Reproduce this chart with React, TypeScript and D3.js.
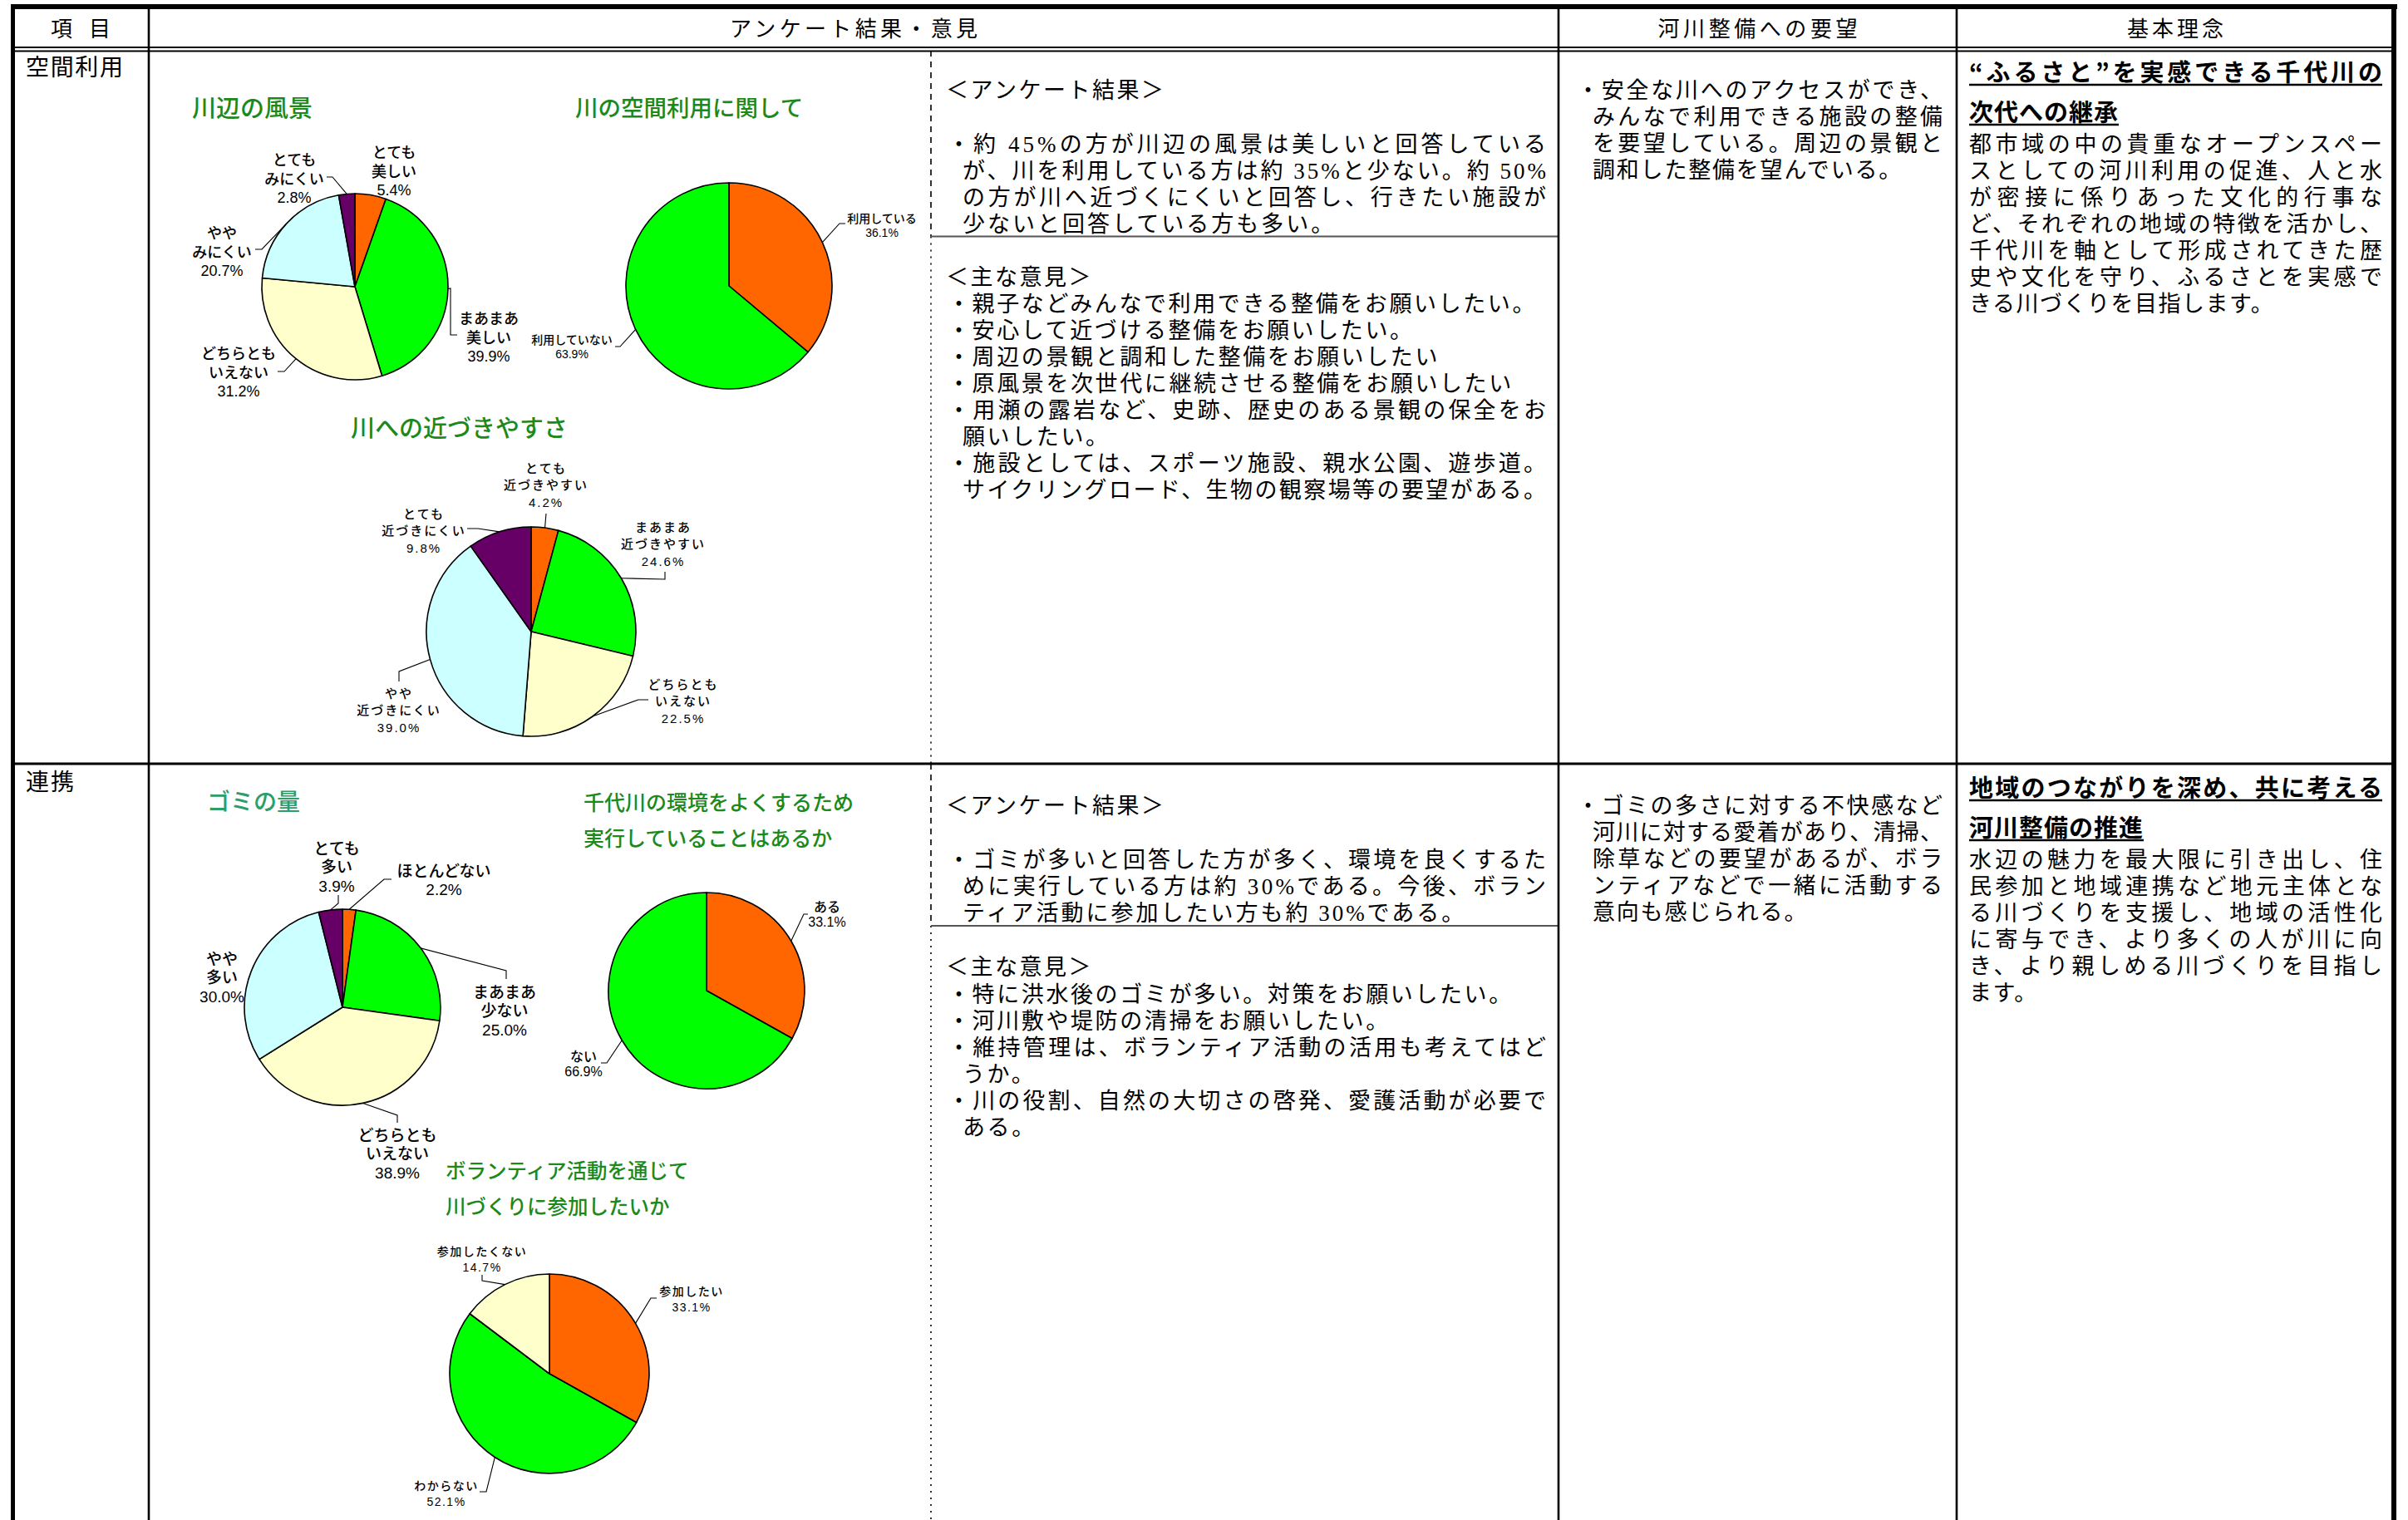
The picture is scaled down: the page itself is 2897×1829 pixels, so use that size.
import React from "react";
import * as d3 from "d3";

// ---------------- DATA ----------------
const headerLabels = ["項 目", "アンケート結果・意見", "河川整備への要望", "基本理念"];
const rowLabels = ["空間利用", "連携"];

const sceneryTitle = ["川辺の風景"];
const sceneryCategories = [["とても", "美しい"], ["まあまあ", "美しい"], ["どちらとも", "いえない"], ["やや", "みにくい"], ["とても", "みにくい"]];
const sceneryValues = [5.4, 39.9, 31.2, 20.7, 2.8];

const spaceUseTitle = ["川の空間利用に関して"];
const spaceUseCategories = [["利用している"], ["利用していない"]];
const spaceUseValues = [36.1, 63.9];

const accessTitle = ["川への近づきやすさ"];
const accessCategories = [["とても", "近づきやすい"], ["まあまあ", "近づきやすい"], ["どちらとも", "いえない"], ["やや", "近づきにくい"], ["とても", "近づきにくい"]];
const accessValues = [4.2, 24.6, 22.5, 39.0, 9.8];

const garbageTitle = ["ゴミの量"];
const garbageCategories = [["ほとんどない"], ["まあまあ", "少ない"], ["どちらとも", "いえない"], ["やや", "多い"], ["とても", "多い"]];
const garbageValues = [2.2, 25.0, 38.9, 30.0, 3.9];

const actionTitle = ["千代川の環境をよくするため", "実行していることはあるか"];
const actionCategories = [["ある"], ["ない"]];
const actionValues = [33.1, 66.9];

const volunteerTitle = ["ボランティア活動を通じて", "川づくりに参加したいか"];
const volunteerCategories = [["参加したい"], ["わからない"], ["参加したくない"]];
const volunteerValues = [33.1, 52.1, 14.7];

const surveyHeading = "＜アンケート結果＞";
const opinionHeading = "＜主な意見＞";

const spaceSurveyResult = [
  "・約 45%の方が川辺の風景は美しいと回答している",
  "が、川を利用している方は約 35%と少ない。約 50%",
  "の方が川へ近づくにくいと回答し、行きたい施設が",
  "少ないと回答している方も多い。",
];
const spaceOpinions = [
  "・親子などみんなで利用できる整備をお願いしたい。",
  "・安心して近づける整備をお願いしたい。",
  "・周辺の景観と調和した整備をお願いしたい",
  "・原風景を次世代に継続させる整備をお願いしたい",
  "・用瀬の露岩など、史跡、歴史のある景観の保全をお",
  "願いしたい。",
  "・施設としては、スポーツ施設、親水公園、遊歩道。",
  "サイクリングロード、生物の観察場等の要望がある。",
];
const spaceRequest = [
  "・安全な川へのアクセスができ、",
  "みんなで利用できる施設の整備",
  "を要望している。周辺の景観と",
  "調和した整備を望んでいる。",
];
const spaceConceptTitle = ["“ふるさと”を実感できる千代川の", "次代への継承"];
const spaceConceptBody = [
  "都市域の中の貴重なオープンスペー",
  "スとしての河川利用の促進、人と水",
  "が密接に係りあった文化的行事な",
  "ど、それぞれの地域の特徴を活かし、",
  "千代川を軸として形成されてきた歴",
  "史や文化を守り、ふるさとを実感で",
  "きる川づくりを目指します。",
];

const collabSurveyResult = [
  "・ゴミが多いと回答した方が多く、環境を良くするた",
  "めに実行している方は約 30%である。今後、ボラン",
  "ティア活動に参加したい方も約 30%である。",
];
const collabOpinions = [
  "・特に洪水後のゴミが多い。対策をお願いしたい。",
  "・河川敷や堤防の清掃をお願いしたい。",
  "・維持管理は、ボランティア活動の活用も考えてはど",
  "うか。",
  "・川の役割、自然の大切さの啓発、愛護活動が必要で",
  "ある。",
];
const collabRequest = [
  "・ゴミの多さに対する不快感など",
  "河川に対する愛着があり、清掃、",
  "除草などの要望があるが、ボラ",
  "ンティアなどで一緒に活動する",
  "意向も感じられる。",
];
const collabConceptTitle = ["地域のつながりを深め、共に考える", "河川整備の推進"];
const collabConceptBody = [
  "水辺の魅力を最大限に引き出し、住",
  "民参加と地域連携など地元主体とな",
  "る川づくりを支援し、地域の活性化",
  "に寄与でき、より多くの人が川に向",
  "き、より親しめる川づくりを目指し",
  "ます。",
];

// ---------------- STYLE / LAYOUT ----------------
const W = 2897;
const H = 1829;
const FONT = "'Noto Sans CJK JP', 'Noto Sans', sans-serif";
const FONT_TIGHT = "'Liberation Sans', 'Noto Sans CJK JP', sans-serif";
const FONT_SERIF = "'Liberation Serif', 'Noto Sans CJK JP', serif";
const sliceColors = ["#FF6600", "#00FF00", "#FFFFCC", "#CCFFFF", "#660066"];
const titleGreen = "#1b8a1b";
const titleTeal = "#2f9d68";

type Pt = [number, number];
type LabelPos = { x: number; y: number; path?: Pt[] };
type PieLayout = {
  cx: number; cy: number; r: number;
  font: number; lh: number; ls: number;
  titleX: number; titleY: number; titleSize: number; titleLh: number; titleColor: string;
  labels: LabelPos[];
};

const pieCharts: { title: string[]; cats: string[][]; values: number[]; layout: PieLayout }[] = [
  {
    title: sceneryTitle, cats: sceneryCategories, values: sceneryValues,
    layout: {
      cx: 427, cy: 345, r: 112, font: 18, lh: 22.5, ls: 0,
      titleX: 231, titleY: 128, titleSize: 29, titleLh: 43, titleColor: titleGreen,
      labels: [
        { x: 474, y: 183 },
        { x: 588, y: 383, path: [[542, 347], [542, 403], [550, 403]] },
        { x: 287, y: 425, path: [[342, 447], [334, 447]] },
        { x: 267, y: 280, path: [[315, 300], [307, 300]] },
        { x: 354, y: 192, path: [[400, 213], [393, 213]] },
      ],
    },
  },
  {
    title: spaceUseTitle, cats: spaceUseCategories, values: spaceUseValues,
    layout: {
      cx: 877, cy: 344, r: 124, font: 14, lh: 17, ls: 0,
      titleX: 692, titleY: 128, titleSize: 27.5, titleLh: 43, titleColor: titleGreen,
      labels: [
        { x: 1061, y: 262, path: [[1010, 269], [1017, 269]] },
        { x: 688, y: 408, path: [[746, 417], [740, 417]] },
      ],
    },
  },
  {
    title: accessTitle, cats: accessCategories, values: accessValues,
    layout: {
      cx: 639, cy: 760, r: 126, font: 15, lh: 20.5, ls: 2,
      titleX: 422, titleY: 513, titleSize: 29, titleLh: 43, titleColor: titleGreen,
      labels: [
        { x: 657, y: 562, path: [[657, 618]] },
        { x: 798, y: 633, path: [[800, 697], [800, 688]] },
        { x: 822, y: 822, path: [[768, 842], [780, 842]] },
        { x: 480, y: 833, path: [[480, 808], [480, 820]] },
        { x: 510, y: 617, path: [[575, 636], [562, 636]] },
      ],
    },
  },
  {
    title: garbageTitle, cats: garbageCategories, values: garbageValues,
    layout: {
      cx: 412, cy: 1212, r: 118, font: 19, lh: 22.5, ls: 0,
      titleX: 249, titleY: 963, titleSize: 28, titleLh: 43, titleColor: titleTeal,
      labels: [
        { x: 534, y: 1047, path: [[462, 1058], [471, 1058]] },
        { x: 607, y: 1193, path: [[609, 1168], [609, 1178]] },
        { x: 478, y: 1365, path: [[478, 1342], [478, 1351]] },
        { x: 267, y: 1153 },
        { x: 405, y: 1020, path: [[407, 1087], [407, 1077]] },
      ],
    },
  },
  {
    title: actionTitle, cats: actionCategories, values: actionValues,
    layout: {
      cx: 850, cy: 1192, r: 118, font: 16, lh: 18.5, ls: 0,
      titleX: 702, titleY: 964, titleSize: 25, titleLh: 43, titleColor: titleGreen,
      labels: [
        { x: 995, y: 1090, path: [[967, 1100], [972, 1100]] },
        { x: 702, y: 1270, path: [[730, 1279], [723, 1279]] },
      ],
    },
  },
  {
    title: volunteerTitle, cats: volunteerCategories, values: volunteerValues,
    layout: {
      cx: 661, cy: 1653, r: 120, font: 14, lh: 19, ls: 1.5,
      titleX: 536, titleY: 1407, titleSize: 24.5, titleLh: 43, titleColor: titleGreen,
      labels: [
        { x: 832, y: 1553, path: [[783, 1562], [790, 1562]] },
        { x: 537, y: 1787, path: [[585, 1795], [577, 1795]] },
        { x: 580, y: 1505, path: [[580, 1541], [580, 1534]] },
      ],
    },
  },
];

function estWidth(s: string, fs: number, ls: number) {
  let w = 0;
  for (const ch of s) {
    const c = ch.codePointAt(0) || 0;
    w += (c < 0x2000 ? (ch === " " ? 0.3 : 0.55) : 1) * fs + ls;
  }
  return w;
}

function PieChart({ title, cats, values, layout }: { title: string[]; cats: string[][]; values: number[]; layout: PieLayout }) {
  const pie = d3.pie<number>().sort(null).value((d) => d);
  const arcs = pie(values);
  const arcGen = d3.arc<d3.PieArcDatum<number>>().innerRadius(0).outerRadius(layout.r);
  const edgeGen = d3.arc<d3.PieArcDatum<number>>().innerRadius(layout.r).outerRadius(layout.r);
  const line = d3.line();
  return (
    <g>
      {title.map((t, i) => (
        <text key={i} x={layout.titleX} y={layout.titleY + i * layout.titleLh} fontSize={layout.titleSize}
          fill={layout.titleColor} fontWeight={500} dominantBaseline="central" fontFamily={FONT}>{t}</text>
      ))}
      <g transform={`translate(${layout.cx},${layout.cy})`}>
        {arcs.map((a, i) => (
          <path key={i} d={arcGen(a) || ""} fill={sliceColors[i]} stroke="#000" strokeWidth={1.6} strokeLinejoin="round" />
        ))}
      </g>
      {arcs.map((a, i) => {
        const lp = layout.labels[i];
        const [ex, ey] = edgeGen.centroid(a);
        const lines = [...cats[i], `${values[i].toFixed(1)}%`];
        return (
          <g key={i}>
            {lp.path && (
              <path d={line([[layout.cx + ex, layout.cy + ey], ...lp.path]) || ""} fill="none" stroke="#000" strokeWidth={1.1} />
            )}
            {lines.map((t, j) => (
              <text key={j} x={lp.x} y={lp.y + j * layout.lh + 1} fontSize={layout.font} letterSpacing={layout.ls} fontWeight={500}
                textAnchor="middle" dominantBaseline="central" fontFamily={FONT_TIGHT} fill="#000">{t}</text>
            ))}
          </g>
        );
      })}
    </g>
  );
}

function Block({ lines, x, right, y, lh, fs, ls, family, weight = 400, indent = 0 }:
  { lines: string[]; x: number; right: number; y: number; lh: number; fs: number; ls: number; family: string; weight?: number; indent?: number }) {
  const hasBullets = lines.some((l) => l.startsWith("・"));
  return (
    <g>
      {lines.map((s, i) => {
        const cont = hasBullets && !s.startsWith("・");
        const lx = x + (cont ? indent : 0);
        const avail = right - lx;
        const next = lines[i + 1];
        const justify = next !== undefined && !next.startsWith("・");
        const nat = estWidth(s, fs, ls);
        const tl = justify || nat > avail ? avail : undefined;
        return (
          <text key={i} x={lx} y={y + i * lh + 2} fontSize={fs} fontWeight={weight} letterSpacing={tl ? 0 : ls}
            textLength={tl} lengthAdjust="spacing" dominantBaseline="central" fontFamily={family} fill="#000">{s}</text>
        );
      })}
    </g>
  );
}

function ConceptTitle({ lines, x, right, y, lh, fs }: { lines: string[]; x: number; right: number; y: number; lh: number; fs: number }) {
  return (
    <g>
      {lines.map((s, i) => {
        const justify = i < lines.length - 1;
        const w = justify ? right - x : estWidth(s, fs, 1);
        const yy = y + i * lh;
        return (
          <g key={i}>
            <text x={x} y={yy} fontSize={fs} fontWeight={700} letterSpacing={justify ? 0 : 1}
              textLength={justify ? right - x : undefined} lengthAdjust="spacing"
              dominantBaseline="central" fontFamily={FONT} fill="#000">{s}</text>
            <line x1={x} x2={x + w} y1={yy + 17} y2={yy + 17} stroke="#000" strokeWidth={2.5} />
          </g>
        );
      })}
    </g>
  );
}

export default function App() {
  React.useEffect(() => {
    document.body.style.margin = "0";
  }, []);

  // table geometry
  const xL = 15, xR = 2880, yTop = 8;
  const headerBot = 57;
  const rowDiv = 919;
  const cols = [179, 1120, 1875, 2354];
  const headerCenters = [(xL + cols[0]) / 2, (cols[0] + cols[2]) / 2, (cols[2] + cols[3]) / 2, (cols[3] + xR) / 2];
  const headerWidths = [72, 298, 240, 116];
  const rules = [284.5, 1114];

  const col2x = 1140, col2r = 1860;
  const col3x = 1897, col3r = 2337;
  const col4x = 2369, col4r = 2866;

  const heading = (t: string, y: number) => (
    <text x={1138} y={y + 2} fontSize={27} letterSpacing={2.5} dominantBaseline="central" fontFamily={FONT_SERIF}>{t}</text>
  );

  return (
    <svg width={W} height={H} viewBox={`0 0 ${W} ${H}`} style={{ display: "block", background: "#fff" }}
      xmlns="http://www.w3.org/2000/svg">
      <rect x={0} y={0} width={W} height={H} fill="#fff" />

      {/* header texts */}
      {headerLabels.map((t, i) => (
        <text key={i} x={headerCenters[i] - headerWidths[i] / 2} y={32} fontSize={26} textLength={headerWidths[i]}
          lengthAdjust="spacing" dominantBaseline="central" fontFamily={FONT} fill="#000">{t}</text>
      ))}
      {/* row labels */}
      <text x={31} y={79} fontSize={28} textLength={117} lengthAdjust="spacing" dominantBaseline="central" fontFamily={FONT}>{rowLabels[0]}</text>
      <text x={31} y={939} fontSize={28} textLength={58} lengthAdjust="spacing" dominantBaseline="central" fontFamily={FONT}>{rowLabels[1]}</text>

      {/* pies */}
      {pieCharts.map((p, i) => (
        <PieChart key={i} {...p} />
      ))}

      {/* column 2b text, row 1 */}
      {heading(surveyHeading, 107)}
      <Block lines={spaceSurveyResult} x={col2x} right={col2r} y={172} lh={32} fs={27} ls={3} indent={18} family={FONT_SERIF} />
      {heading(opinionHeading, 332)}
      <Block lines={spaceOpinions} x={col2x} right={col2r} y={364} lh={32} fs={27} ls={2.6} indent={18} family={FONT_SERIF} />

      {/* column 2b text, row 2 */}
      {heading(surveyHeading, 968)}
      <Block lines={collabSurveyResult} x={col2x} right={col2r} y={1033} lh={32} fs={27} ls={3} indent={18} family={FONT_SERIF} />
      {heading(opinionHeading, 1162)}
      <Block lines={collabOpinions} x={col2x} right={col2r} y={1195} lh={32} fs={27} ls={2.6} indent={18} family={FONT_SERIF} />

      {/* column 3 */}
      <Block lines={spaceRequest} x={col3x} right={col3r} y={107} lh={32} fs={27} ls={1.8} indent={19} family={FONT_TIGHT} />
      <Block lines={collabRequest} x={col3x} right={col3r} y={968} lh={32} fs={27} ls={1.8} indent={19} family={FONT_TIGHT} />

      {/* column 4 */}
      <ConceptTitle lines={spaceConceptTitle} x={col4x} right={col4r} y={85} lh={48} fs={29} />
      <Block lines={spaceConceptBody} x={col4x} right={col4r} y={172} lh={32} fs={27} ls={1.5} family={FONT_TIGHT} />
      <ConceptTitle lines={collabConceptTitle} x={col4x} right={col4r} y={946} lh={48} fs={29} />
      <Block lines={collabConceptBody} x={col4x} right={col4r} y={1033} lh={32} fs={27} ls={1.5} family={FONT_TIGHT} />

      {/* table lines */}
      <g stroke="#000" fill="none">
        <line x1={cols[1]} x2={cols[1]} y1={headerBot + 4} y2={rules[0]} strokeWidth={1.6} strokeDasharray="7 6" />
        <line x1={cols[1]} x2={cols[1]} y1={rules[0]} y2={rowDiv} strokeWidth={1.6} strokeDasharray="2 6" />
        <line x1={cols[1]} x2={cols[1]} y1={rowDiv} y2={rules[1]} strokeWidth={1.6} strokeDasharray="7 6" />
        <line x1={cols[1]} x2={cols[1]} y1={rules[1]} y2={H} strokeWidth={1.6} strokeDasharray="2 6" />
        {rules.map((y, i) => (
          <line key={i} x1={cols[1]} x2={cols[2]} y1={y} y2={y} stroke="#555" strokeWidth={1.8} />
        ))}
        <line x1={cols[0]} x2={cols[0]} y1={yTop} y2={H} strokeWidth={2.6} />
        <line x1={cols[2]} x2={cols[2]} y1={yTop} y2={H} strokeWidth={2.6} />
        <line x1={cols[3]} x2={cols[3]} y1={yTop} y2={H} strokeWidth={2.6} />
        <line x1={xL} x2={xR} y1={headerBot} y2={headerBot} strokeWidth={2.2} />
        <line x1={xL} x2={xR} y1={headerBot + 4.5} y2={headerBot + 4.5} strokeWidth={2.2} />
        <line x1={xL} x2={xR} y1={rowDiv} y2={rowDiv} strokeWidth={3} />
      </g>
      {/* outer thick borders */}
      <rect x={xL - 2} y={yTop - 3} width={xR - xL + 6} height={6} fill="#000" />
      <rect x={xL - 2} y={yTop - 3} width={5} height={H} fill="#000" />
      <rect x={xR - 3} y={yTop - 3} width={6} height={H} fill="#000" />
    </svg>
  );
}
